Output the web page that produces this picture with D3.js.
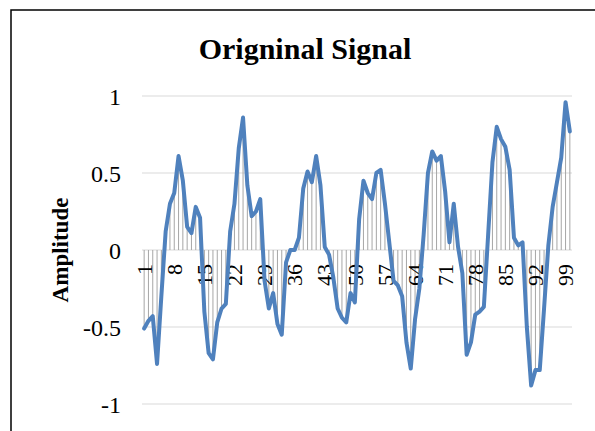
<!DOCTYPE html>
<html>
<head>
<meta charset="utf-8">
<script src="https://cdn.jsdelivr.net/npm/d3@7"></script>
<style>
  html, body { margin: 0; padding: 0; background: #fff; }
  svg { display: block; }
  text { font-family: "Liberation Serif", "Times New Roman", serif; }
</style>
</head>
<body>
<svg id="chart" width="595" height="431"></svg>
<script>
const title = "Origninal Signal";
const yTitle = "Amplitude";
const categories = d3.range(1, 101);
const amplitude = [
  -0.51, -0.46, -0.43, -0.74, -0.30, 0.12, 0.30, 0.37, 0.61, 0.45,
  0.15, 0.11, 0.28, 0.21, -0.40, -0.67, -0.71, -0.47, -0.38, -0.35,
  0.12, 0.30, 0.66, 0.86, 0.42, 0.22, 0.25, 0.33, -0.20, -0.38,
  -0.28, -0.48, -0.55, -0.08, 0.00, 0.00, 0.08, 0.40, 0.51, 0.44,
  0.61, 0.42, 0.02, -0.03, -0.18, -0.38, -0.44, -0.47, -0.28, -0.34,
  0.20, 0.45, 0.37, 0.33, 0.50, 0.52, 0.30, 0.05, -0.20, -0.23,
  -0.30, -0.60, -0.77, -0.45, -0.25, 0.10, 0.50, 0.64, 0.58, 0.61,
  0.38, 0.05, 0.30, 0.02, -0.15, -0.68, -0.60, -0.42, -0.40, -0.37,
  0.10, 0.57, 0.80, 0.72, 0.67, 0.52, 0.08, 0.03, 0.05, -0.50,
  -0.88, -0.78, -0.78, -0.38, 0.03, 0.28, 0.44, 0.60, 0.96, 0.77
];
const yTicks = [-1, -0.5, 0, 0.5, 1];
const xTickLabels = [1, 8, 15, 22, 29, 36, 43, 50, 57, 64, 71, 78, 85, 92, 99];

const svg = d3.select("#chart");

// outer chart border
svg.append("rect")
  .attr("x", 11).attr("y", 10).attr("width", 620).attr("height", 460)
  .attr("fill", "none").attr("stroke", "#000").attr("stroke-width", 1.5);

const x = d3.scaleBand().domain(categories).range([142, 572]).paddingInner(0).paddingOuter(0);
const cx = d => x(d) + x.bandwidth() / 2;
const y = d3.scaleLinear().domain([-1, 1]).range([404, 96]);

// gridlines
svg.append("g").selectAll("line").data(yTicks).join("line")
  .attr("x1", 142).attr("x2", 572)
  .attr("y1", d => y(d)).attr("y2", d => y(d))
  .attr("stroke", "#d9d9d9").attr("stroke-width", 1.2);

// y axis labels
const yAxis = svg.append("g").attr("transform", "translate(121,0)")
  .call(d3.axisLeft(y).tickValues(yTicks).tickSize(0).tickPadding(0).tickFormat(d => String(d)));
yAxis.select(".domain").remove();
yAxis.selectAll("text")
  .attr("font-family", "Liberation Serif, serif")
  .attr("font-size", 24).attr("fill", "#000").attr("dy", "0.35em");

// drop lines
const data = categories.map((c, i) => ({ c, v: amplitude[i] }));
svg.append("g").selectAll("line").data(data).join("line")
  .attr("x1", d => cx(d.c)).attr("x2", d => cx(d.c))
  .attr("y1", y(0)).attr("y2", d => y(d.v))
  .attr("stroke", "#a6a6a6").attr("stroke-width", 1);

// x axis labels (rotated)
const xAxis = svg.append("g").attr("transform", `translate(0,${y(0)})`)
  .call(d3.axisBottom(x).tickValues(xTickLabels).tickSize(0).tickPadding(0));
xAxis.select(".domain").remove();
xAxis.selectAll("text")
  .attr("font-family", "Liberation Serif, serif")
  .attr("font-size", 22).attr("fill", "#000")
  .attr("text-anchor", "end")
  .attr("transform", "rotate(-90)")
  .attr("x", -14).attr("y", 0).attr("dy", "0.35em");

// series line
const line = d3.line().x(d => cx(d.c)).y(d => y(d.v));
svg.append("path").datum(data)
  .attr("d", line)
  .attr("fill", "none")
  .attr("stroke", "#4f81bd")
  .attr("stroke-width", 4)
  .attr("stroke-linejoin", "round")
  .attr("stroke-linecap", "round");

// title
svg.append("text").text(title)
  .attr("x", 305).attr("y", 59)
  .attr("text-anchor", "middle")
  .attr("font-weight", "bold").attr("font-size", 30).attr("fill", "#000");

// y axis title
svg.append("text").text(yTitle)
  .attr("transform", `translate(68,250) rotate(-90)`)
  .attr("text-anchor", "middle")
  .attr("font-weight", "bold").attr("font-size", 23).attr("fill", "#000");
</script>
</body>
</html>
